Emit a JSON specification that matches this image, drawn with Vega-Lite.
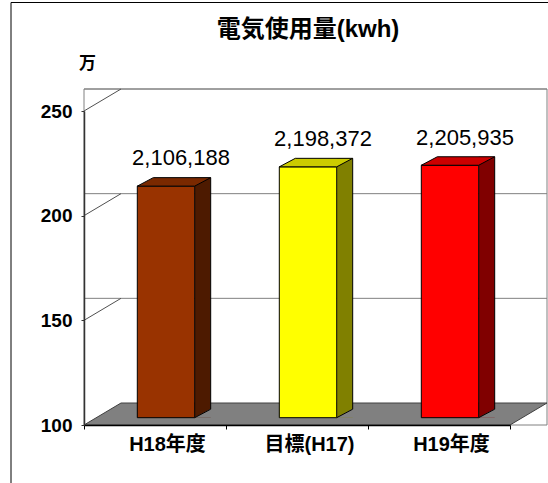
{
  "$schema": "https://vega.github.io/schema/vega-lite/v6.json",
  "width": 426,
  "height": 314,
  "autosize": "none",
  "padding": {"left": 84, "top": 111, "right": 38, "bottom": 58},
  "background": "#ffffff",
  "config": {"view": {"stroke": null}, "font": "Liberation Sans, Noto Sans CJK JP"},
  "title": {"text": "電気使用量(kwh)", "fontSize": 24, "fontWeight": "bold", "font": "Liberation Sans, Noto Sans CJK JP", "color": "#000000", "anchor": "middle", "dx": 11, "offset": -65, "baseline": "bottom"},
  "data": {"values": [
    {"cat": "H18年度", "kwh": 2106188},
    {"cat": "目標(H17)", "kwh": 2198372},
    {"cat": "H19年度", "kwh": 2205935}
  ]},
  "resolve": {"scale": {"color": "independent"}},
  "layer": [
    {
      "data": {"values": [{"k": 1}]},
      "mark": {"type": "point", "shape": "M-286 -265.5 L270 -265.5 L270 240 L-286 240 Z", "size": 4, "filled": false, "stroke": "#000000", "strokeWidth": 1, "opacity": 1},
      "encoding": {}
    },
    {
      "data": {"values": [{"k": 1}]},
      "mark": {"type": "rect", "fill": "#ffffff", "stroke": "#808080", "strokeWidth": 1, "xOffset": 37, "x2Offset": 37, "yOffset": -22, "y2Offset": -22},
      "encoding": {}
    },
    {
      "data": {"values": [{"tick": 1500000}, {"tick": 2000000}, {"tick": 2500000}]},
      "mark": {"type": "rule", "stroke": "#808080", "strokeWidth": 1, "xOffset": 37, "x2Offset": 37, "yOffset": -22},
      "encoding": {"y": {"field": "tick", "type": "quantitative", "scale": {"domain": [1000000, 2500000], "nice": false, "zero": false}}}
    },
    {
      "data": {"values": [{"tick": 1500000}, {"tick": 2000000}, {"tick": 2500000}]},
      "mark": {"type": "point", "shape": "M-213 0 L-176 -22", "size": 4, "filled": false, "stroke": "#505050", "strokeWidth": 1, "opacity": 1},
      "encoding": {"y": {"field": "tick", "type": "quantitative", "scale": {"domain": [1000000, 2500000], "nice": false, "zero": false}}}
    },
    {
      "data": {"values": [{"base": 1000000}]},
      "mark": {"type": "point", "shape": "M-213 0 L213 0 L250 -22 L-176 -22 Z", "size": 4, "filled": true, "fill": "#808080", "stroke": "#404040", "strokeWidth": 1, "opacity": 1},
      "encoding": {"y": {"field": "base", "type": "quantitative", "scale": {"domain": [1000000, 2500000], "nice": false, "zero": false}}}
    },
    {
      "mark": {"type": "bar", "width": 16, "xOffset": 47.7, "yOffset": -15.8, "y2Offset": -7.3, "strokeWidth": 0},
      "encoding": {
        "x": {"field": "cat", "type": "nominal", "sort": null, "scale": {"paddingInner": 0, "paddingOuter": 0}},
        "y": {"field": "kwh", "type": "quantitative", "scale": {"domain": [1000000, 2500000], "nice": false, "zero": false}},
        "y2": {"datum": 1000000},
        "color": {"field": "cat", "type": "nominal", "sort": null, "scale": {"domain": ["H18年度", "目標(H17)", "H19年度"], "range": ["#4d1a00", "#808000", "#800000"]}, "legend": null}
      }
    },
    {
      "mark": {"type": "point", "shape": "M39.2 -7.3 L56.4 -16.4 L56.4 -7.3 Z", "size": 4, "filled": true, "fill": "#808080", "strokeWidth": 0, "opacity": 1},
      "encoding": {
        "x": {"field": "cat", "type": "nominal", "sort": null, "scale": {"paddingInner": 0, "paddingOuter": 0}},
        "y": {"datum": 1000000, "type": "quantitative", "scale": {"domain": [1000000, 2500000], "nice": false, "zero": false}}
      }
    },
    {
      "mark": {"type": "point", "shape": "M39.7 -7.3 L55.7 -15.8", "size": 4, "filled": false, "stroke": "#000000", "strokeWidth": 1, "opacity": 1},
      "encoding": {
        "x": {"field": "cat", "type": "nominal", "sort": null, "scale": {"paddingInner": 0, "paddingOuter": 0}},
        "y": {"datum": 1000000, "type": "quantitative", "scale": {"domain": [1000000, 2500000], "nice": false, "zero": false}}
      }
    },
    {
      "mark": {"type": "rule", "stroke": "#000000", "strokeWidth": 1, "xOffset": 55.7, "yOffset": -15.8, "y2Offset": -15.8},
      "encoding": {
        "x": {"field": "cat", "type": "nominal", "sort": null, "scale": {"paddingInner": 0, "paddingOuter": 0}},
        "y": {"field": "kwh", "type": "quantitative", "scale": {"domain": [1000000, 2500000], "nice": false, "zero": false}},
        "y2": {"datum": 1000000}
      }
    },
    {
      "mark": {"type": "bar", "width": 57.4, "xOffset": 11, "yOffset": -7.3, "y2Offset": -7.3, "stroke": "#000000", "strokeWidth": 1},
      "encoding": {
        "x": {"field": "cat", "type": "nominal", "sort": null, "title": null, "scale": {"paddingInner": 0, "paddingOuter": 0},
          "axis": {"labelAngle": 0, "labelAlign": "center", "labelFontSize": 20, "labelFontWeight": "bold", "labelColor": "#000000", "labelPadding": 15, "labelOffset": 12, "tickBand": "extent", "tickSize": 4, "tickColor": "#000000", "domainColor": "#000000", "domainWidth": 1.5, "zindex": 1}},
        "y": {"field": "kwh", "type": "quantitative", "scale": {"domain": [1000000, 2500000], "nice": false, "zero": false},
          "axis": {"values": [1000000, 1500000, 2000000, 2500000], "labelExpr": "format(datum.value / 10000, 'd')", "labelFontSize": 19, "labelFontWeight": "bold", "labelColor": "#000000", "labelPadding": 9, "tickSize": 3, "tickColor": "#333333", "domainColor": "#333333", "domainWidth": 1.5, "grid": false, "zindex": 1,
            "title": "万", "titleAngle": 0, "titleX": 3, "titleY": -48, "titleAlign": "center", "titleBaseline": "middle", "titleFontSize": 17, "titleFontWeight": "bold", "titleColor": "#000000"}},
        "y2": {"datum": 1000000},
        "color": {"field": "cat", "type": "nominal", "sort": null, "scale": {"domain": ["H18年度", "目標(H17)", "H19年度"], "range": ["#993300", "#ffff00", "#ff0000"]}, "legend": null}
      }
    },
    {
      "mark": {"type": "point", "shape": "M-17.7 -7.3 L39.7 -7.3 L55.7 -15.8 L-1.7 -15.8 Z", "size": 4, "filled": true, "stroke": "#000000", "strokeWidth": 1, "opacity": 1},
      "encoding": {
        "x": {"field": "cat", "type": "nominal", "sort": null, "scale": {"paddingInner": 0, "paddingOuter": 0}},
        "y": {"field": "kwh", "type": "quantitative", "scale": {"domain": [1000000, 2500000], "nice": false, "zero": false}},
        "color": {"field": "cat", "type": "nominal", "sort": null, "scale": {"domain": ["H18年度", "目標(H17)", "H19年度"], "range": ["#7a2900", "#cccc00", "#cc0000"]}, "legend": null}
      }
    },
    {
      "mark": {"type": "text", "fontSize": 22, "fontWeight": "normal", "color": "#000000", "baseline": "middle", "align": "center", "dx": 26, "dy": -35},
      "encoding": {
        "x": {"field": "cat", "type": "nominal", "sort": null, "scale": {"paddingInner": 0, "paddingOuter": 0}},
        "y": {"field": "kwh", "type": "quantitative", "scale": {"domain": [1000000, 2500000], "nice": false, "zero": false}},
        "text": {"field": "kwh", "type": "quantitative", "format": ",d"}
      }
    }
  ]
}
